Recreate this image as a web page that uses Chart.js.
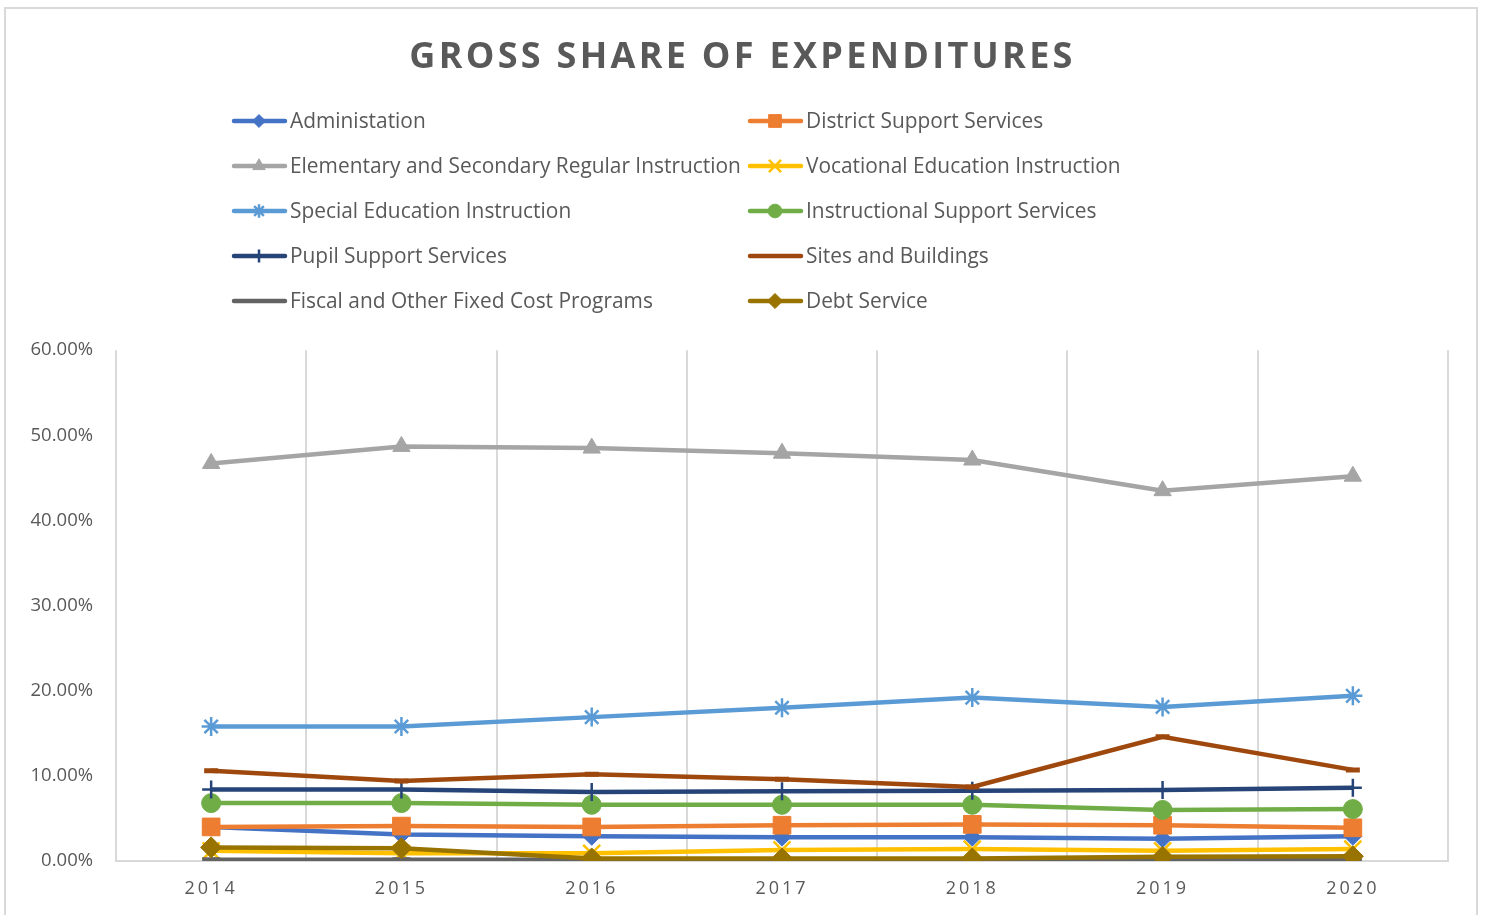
<!DOCTYPE html>
<html>
<head>
<meta charset="utf-8">
<script src="https://cdn.jsdelivr.net/npm/chart.js@4.4.0/dist/chart.umd.min.js"></script>
<style>
  html, body { margin: 0; padding: 0; background: #ffffff; }
  #wrap { position: relative; width: 1485px; height: 915px; overflow: hidden; }
  #frame { position: absolute; left: 4px; top: 7px; width: 1474px; height: 940px; border: 2px solid #d9d9d9; box-sizing: border-box; }
  #c { position: absolute; left: 0; top: 0; }
</style>
</head>
<body>
<div id="wrap">
  <div id="frame"></div>
  <canvas id="c" width="1485" height="915"></canvas>
</div>
<script>
// ---- data (percent of gross expenditures) ----
const years = ['2014', '2015', '2016', '2017', '2018', '2019', '2020'];
const yTicks = [0, 10, 20, 30, 40, 50, 60];

const administration   = [4.0, 3.1, 2.9, 2.8, 2.8, 2.6, 2.9];
const districtSupport  = [4.0, 4.1, 4.0, 4.2, 4.3, 4.2, 3.9];
const elementarySec    = [46.7, 48.7, 48.5, 47.9, 47.1, 43.5, 45.2];
const vocational       = [1.2, 0.9, 0.9, 1.3, 1.4, 1.2, 1.4];
const specialEd        = [15.8, 15.8, 16.9, 18.0, 19.2, 18.1, 19.4];
const instrSupport     = [6.8, 6.8, 6.6, 6.6, 6.6, 6.0, 6.1];
const pupilSupport     = [8.4, 8.4, 8.1, 8.2, 8.25, 8.35, 8.6];
const sitesBuildings   = [10.6, 9.4, 10.2, 9.6, 8.7, 14.6, 10.7];
const fiscalFixed      = [0.15, 0.15, 0.15, 0.15, 0.15, 0.15, 0.15];
const debtService      = [1.6, 1.5, 0.3, 0.3, 0.3, 0.5, 0.55];

const seriesNames = [
  'Administation', 'District Support Services',
  'Elementary and Secondary Regular Instruction', 'Vocational Education Instruction',
  'Special Education Instruction', 'Instructional Support Services',
  'Pupil Support Services', 'Sites and Buildings',
  'Fiscal and Other Fixed Cost Programs', 'Debt Service'
];
const seriesData = [administration, districtSupport, elementarySec, vocational, specialEd,
  instrSupport, pupilSupport, sitesBuildings, fiscalFixed, debtService];
const seriesColors = ['#4472C4', '#ED7D31', '#A5A5A5', '#FFC000', '#5B9BD5',
  '#70AD47', '#264478', '#9E480E', '#636363', '#997300'];
const seriesMarkers = ['rectRot', 'rect', 'triangle', 'crossRot', 'star',
  'circle', 'cross', 'line', 'line', 'rectRot'];
const markerRadius = [9, 12.5, 10, 12, 9.5, 9.5, 9, 7, 9, 10.5];
const markerBorder = [1, 1, 1, 2.5, 2.5, 1, 2.5, 5, 5, 1];

const TEXT = '#595959';
const FONT = "'Open Sans', 'Noto Sans', sans-serif";

const datasets = seriesNames.map((name, i) => ({
  label: name,
  data: seriesData[i],
  borderColor: seriesColors[i],
  backgroundColor: seriesColors[i],
  borderWidth: 4.5,
  pointStyle: seriesMarkers[i],
  pointRadius: markerRadius[i],
  pointHoverRadius: markerRadius[i],
  pointBorderWidth: markerBorder[i],
  pointBackgroundColor: seriesColors[i],
  pointBorderColor: seriesColors[i],
  tension: 0,
  order: seriesNames.length - 1 - i
}));

// letter-spacing helper for title and x labels; title centred on the whole frame
const spacingPlugin = {
  id: 'spacing',
  beforeDraw(chart) {
    const tb = chart.titleBlock;
    if (tb && !tb._spaced) {
      const orig = tb.draw.bind(tb);
      tb.draw = function () {
        const ctx = chart.ctx; ctx.save();
        ctx.letterSpacing = '3.3px';
        ctx.translate(chart.width / 2 - (tb.left + tb.right) / 2, 0);
        orig(); ctx.restore();
      };
      tb._spaced = true;
    }
    const xs = chart.scales.x;
    if (xs && !xs._spaced) {
      const origL = xs.drawLabels.bind(xs);
      xs.drawLabels = function (a) {
        const ctx = chart.ctx; ctx.save(); ctx.letterSpacing = '3px'; origL(a); ctx.restore();
      };
      xs._spaced = true;
    }
  }
};

// two-column legend like the reference
const legendPlugin = {
  id: 'twoColLegend',
  afterDraw(chart) {
    const ctx = chart.ctx;
    const cols = [232, 748];
    const rows = [121, 166, 211, 256, 301];
    ctx.save();
    ctx.font = '20px ' + FONT;
    const w = ctx.measureText(seriesNames[2]).width;
    const size = Math.min(22, 20 * 451 / w);
    chart.data.datasets.forEach((ds, i) => {
      const lx = cols[i % 2];
      const y = rows[Math.floor(i / 2)];
      ctx.strokeStyle = ds.borderColor;
      ctx.fillStyle = ds.borderColor;
      ctx.lineWidth = 4.5;
      ctx.lineCap = 'round';
      ctx.beginPath(); ctx.moveTo(lx + 2, y); ctx.lineTo(lx + 53, y); ctx.stroke();
      ctx.lineCap = 'butt';
      if (ds.pointStyle !== 'line') {
        ctx.lineWidth = ds.pointBorderWidth;
        Chart.helpers.drawPoint(ctx, {
          pointStyle: ds.pointStyle, rotation: 0,
          radius: ds.pointRadius * 0.72, borderWidth: ds.pointBorderWidth
        }, lx + 27, y);
      }
      ctx.fillStyle = TEXT;
      ctx.font = size + 'px ' + FONT;
      ctx.textAlign = 'left';
      ctx.textBaseline = 'middle';
      ctx.fillText(ds.label, lx + 58, y + 1.5);
    });
    ctx.restore();
  }
};

new Chart(document.getElementById('c'), {
  type: 'line',
  data: { labels: years, datasets },
  plugins: [spacingPlugin, legendPlugin],
  options: {
    responsive: false,
    animation: false,
    events: [],
    layout: { padding: { left: 0, right: 37, top: 0, bottom: -2 } },
    plugins: {
      legend: { display: false },
      tooltip: { enabled: false },
      title: {
        display: true,
        text: 'GROSS SHARE OF EXPENDITURES',
        color: TEXT,
        font: { family: FONT, size: 36, weight: 'bold', lineHeight: 1.2 },
        padding: { top: 36, bottom: 271 }
      }
    },
    scales: {
      x: {
        offset: true,
        grid: { display: true, offset: true, color: '#d9d9d9', lineWidth: 2, drawTicks: false },
        border: { display: true, color: '#d9d9d9', width: 2 },
        ticks: { color: TEXT, font: { family: FONT, size: 18, lineHeight: 1.0 }, padding: 19 }
      },
      y: {
        min: 0, max: 60,
        afterBuildTicks(scale) { scale.ticks = yTicks.map(v => ({ value: v })); },
        afterFit(scale) { scale.width = 116; },
        grid: { display: false, drawTicks: false },
        border: { display: false },
        ticks: {
          color: TEXT, font: { family: FONT, size: 18.5 }, padding: 23,
          callback: v => Number(v).toFixed(2) + '%'
        }
      }
    }
  }
});
</script>
</body>
</html>
